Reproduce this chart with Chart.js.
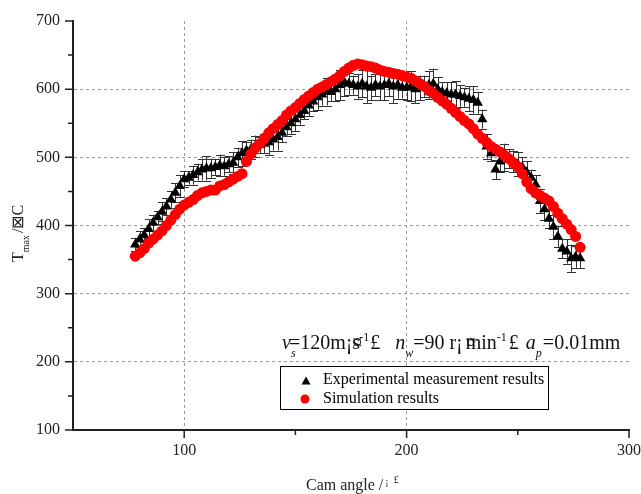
<!DOCTYPE html>
<html><head><meta charset="utf-8">
<script src="https://cdn.jsdelivr.net/npm/chart.js@4/dist/chart.umd.min.js"></script>
<style>html,body{margin:0;padding:0;background:#fff;}#wrap{width:641px;height:494px;position:relative;}</style>
</head><body>
<div id="wrap"><canvas id="c" width="641" height="494"></canvas></div>
<script>
// Cam angle (degrees)
const angles = [
  78,80,82,84,86,88,90,92,94,96,
  98,100,102,104,106,108,110,112,114,116,
  118,120,122,124,126,128,130,132,134,136,
  138,140,142,144,146,148,150,152,154,156,
  158,160,162,164,166,168,170,172,174,176,
  178,180,182,184,186,188,190,192,194,196,
  198,200,202,204,206,208,210,212,214,216,
  218,220,222,224,226,228,230,232,234,236,
  238,240,242,244,246,248,250,252,254,256,
  258,260,262,264,266,268,270,272,274,276,
  278
];
// Experimental measurement results (Tmax)
const experimental = [
  372,380,386,395,404,412,420,428,438,448,
  458,468,470,474,478,482,484,484,486,488,
  487,490,492,500,506,510,512,516,518,520,
  522,526,530,536,544,550,556,562,568,576,
  582,588,592,596,596,600,606,610,608,606,
  604,608,604,602,606,604,606,608,604,606,
  602,602,604,600,602,604,606,608,600,596,
  594,592,592,590,588,586,584,580,556,516,
  506,482,494,500,498,494,490,486,478,470,
  460,436,424,410,398,384,366,362,352,354,
  352
];
// Error of experimental results (+/-)
const expError = [
  10,12,10,14,12,10,14,12,12,14,
  16,12,10,14,12,16,18,14,12,16,
  14,12,16,14,18,12,14,16,12,14,
  18,16,20,14,12,16,18,14,12,16,
  14,18,16,20,14,18,22,20,16,14,
  18,20,24,18,16,20,22,18,24,20,
  16,18,22,20,18,16,20,22,18,14,
  16,18,20,16,14,18,20,16,14,18,
  12,14,16,20,14,16,18,14,16,12,
  14,18,16,14,18,16,14,18,20,16,
  14
];
// Simulation results (Tmax)
const simulated = [
  355,360,366,374,380,386,392,400,408,416,
  424,430,434,438,444,448,450,452,452,458,
  460,464,468,472,476,494,505,514,520,528,
  536,542,548,554,562,568,573,579,585,590,
  595,600,603,607,611,615,620,626,631,635,
  637,636,634,633,631,628,626,625,623,622,
  620,618,616,612,608,604,598,594,588,583,
  578,572,566,560,554,549,542,534,528,522,
  516,512,508,503,498,492,486,476,464,454,
  448,444,440,436,428,418,410,402,394,384,
  368
];
const xTickLabels = [100, 200, 300];
const yTickLabels = [100, 200, 300, 400, 500, 600, 700];
const xGridValues = [100, 200];
const yGridValues = [200, 300, 400, 500, 600];
const xMinorTicks = [150, 250];
const yMinorTicks = [150, 250, 350, 450, 550, 650];

const SERIF = '"Liberation Serif", "Times New Roman", serif';
const INK = '#222';

const errorBars = {
  id: 'errorBars',
  beforeDatasetDraw(chart, args) {
    if (chart.data.datasets[args.index].label !== 'Experimental measurement results') return;
    const ctx = chart.ctx, xs = chart.scales.x, ys = chart.scales.y;
    ctx.save();
    ctx.strokeStyle = '#333';
    ctx.lineWidth = 1;
    angles.forEach((a, i) => {
      const px = Math.round(xs.getPixelForValue(a)) + 0.5;
      const top = ys.getPixelForValue(experimental[i] + expError[i]);
      const bot = ys.getPixelForValue(experimental[i] - expError[i]);
      ctx.beginPath();
      ctx.moveTo(px, top); ctx.lineTo(px, bot);
      ctx.moveTo(px - 4.5, Math.round(top) + 0.5); ctx.lineTo(px + 4.5, Math.round(top) + 0.5);
      ctx.moveTo(px - 4.5, Math.round(bot) + 0.5); ctx.lineTo(px + 4.5, Math.round(bot) + 0.5);
      ctx.stroke();
    });
    ctx.restore();
  }
};

function drawPieces(ctx, x, baseline, pieces, size) {
  pieces.forEach(p => {
    const fs = p.small ? Math.round(size * 0.62) : size;
    ctx.font = (p.italic ? 'italic ' : '') + fs + 'px ' + SERIF;
    let dy = p.dy || 0;
    if (p.sub) dy = size * 0.38;
    if (p.sup) dy = -size * 0.42;
    const w = ctx.measureText(p.t).width;
    ctx.fillText(p.t, x + (p.dx || 0), baseline + dy);
    if (!p.overlay) x += w + (p.gap || 0);
  });
  return x;
}

const decorations = {
  id: 'decorations',
  afterDraw(chart) {
    const ctx = chart.ctx, xs = chart.scales.x, ys = chart.scales.y;
    const area = chart.chartArea;
    ctx.save();
    // tick marks
    ctx.strokeStyle = INK;
    ctx.lineWidth = 1.5;
    ctx.beginPath();
    xTickLabels.forEach(v => { const p = xs.getPixelForValue(v); ctx.moveTo(p, area.bottom); ctx.lineTo(p, area.bottom + 8); });
    xMinorTicks.forEach(v => { const p = xs.getPixelForValue(v); ctx.moveTo(p, area.bottom); ctx.lineTo(p, area.bottom + 5); });
    yTickLabels.forEach(v => { const p = ys.getPixelForValue(v); ctx.moveTo(area.left, p); ctx.lineTo(area.left - 8, p); });
    yMinorTicks.forEach(v => { const p = ys.getPixelForValue(v); ctx.moveTo(area.left, p); ctx.lineTo(area.left - 5, p); });
    ctx.stroke();

    ctx.fillStyle = INK;
    ctx.textBaseline = 'alphabetic';
    ctx.textAlign = 'left';
    // x axis title
    drawPieces(ctx, 306, 490, [
      { t: 'Cam angle /' },
      { t: '\u00a1', small: true, gap: 7, dx: 2, dy: -5 },
      { t: '\u00a3', small: true, sup: true }
    ], 16);
    // y axis title (rotated)
    ctx.save();
    ctx.translate(23, 262);
    ctx.rotate(-Math.PI / 2);
    drawPieces(ctx, 0, 0, [
      { t: 'T' },
      { t: 'max', small: true, sub: true, gap: 2 },
      { t: '/\u22a0C' }
    ], 16);
    ctx.restore();

    // annotation
    ctx.fillStyle = '#111';
    drawPieces(ctx, 282, 349, [
      { t: 'v', italic: true, gap: -2 },
      { t: 's', italic: true, small: true, sub: true, overlay: true, dx: 2 },
      { t: '=120m\u00a1' },
      { t: '\u00a4', overlay: true },
      { t: 's', gap: -1 },
      { t: '-1', small: true, sup: true, gap: 1 },
      { t: '\u00a3', gap: 15 },
      { t: 'n', italic: true },
      { t: 'w', italic: true, small: true, sub: true },
      { t: '=90 r\u00a1', gap: 3 },
      { t: '\u00a4', overlay: true },
      { t: 'min' },
      { t: '-1', small: true, sup: true, gap: 2 },
      { t: '\u00a3', gap: 7 },
      { t: 'a', italic: true, gap: 0 },
      { t: 'p', italic: true, small: true, sub: true, gap: 1 },
      { t: '=0.01mm' }
    ], 20);

    // legend box
    ctx.fillStyle = '#fff';
    ctx.fillRect(280, 366.5, 268, 43);
    ctx.strokeStyle = '#000';
    ctx.lineWidth = 1;
    ctx.strokeRect(280.5, 366.5, 268, 43);
    // triangle marker
    ctx.fillStyle = '#000';
    ctx.beginPath();
    ctx.moveTo(306, 376.5); ctx.lineTo(310.5, 384.5); ctx.lineTo(301.5, 384.5); ctx.closePath();
    ctx.fill();
    // circle marker
    ctx.fillStyle = '#ff0000';
    ctx.beginPath();
    ctx.arc(305, 399, 4.5, 0, Math.PI * 2);
    ctx.fill();
    ctx.fillStyle = '#000';
    ctx.font = '16px ' + SERIF;
    ctx.fillText(chart.data.datasets[1].label, 323, 384);
    ctx.fillText(chart.data.datasets[0].label, 323, 403);
    ctx.restore();
  }
};

new Chart(document.getElementById('c'), {
  type: 'scatter',
  data: {
    datasets: [
      {
        label: 'Simulation results',
        data: angles.map((a, i) => ({ x: a, y: simulated[i] })),
        pointStyle: 'circle',
        pointRadius: 5.5,
        backgroundColor: '#ff0000',
        borderColor: '#ff0000',
        borderWidth: 0,
        order: 0
      },
      {
        label: 'Experimental measurement results',
        data: angles.map((a, i) => ({ x: a, y: experimental[i] })),
        pointStyle: 'triangle',
        pointRadius: 6,
        backgroundColor: '#000',
        borderColor: '#000',
        borderWidth: 0,
        order: 1
      }
    ]
  },
  options: {
    responsive: false,
    animation: false,
    events: [],
    layout: { padding: { left: 0, right: 0, top: 21, bottom: 0 } },
    plugins: { legend: { display: false }, tooltip: { enabled: false } },
    scales: {
      x: {
        type: 'linear', min: 50, max: 300,
        afterFit(s) { s.height = 64; s.paddingRight = 12; s.paddingLeft = 0; },
        afterBuildTicks(s) { s.ticks = [50, 100, 150, 200, 250, 300].map(v => ({ value: v })); },
        ticks: {
          autoSkip: false, maxRotation: 0, padding: 11, color: INK,
          font: { family: SERIF, size: 16 },
          callback: v => xTickLabels.includes(v) ? String(v) : ''
        },
        grid: {
          drawTicks: false, lineWidth: 1,
          color: c => (c.tick && xGridValues.includes(c.tick.value)) ? '#9a9a9a' : 'rgba(0,0,0,0)'
        },
        border: { display: true, color: INK, width: 2, dash: [3, 3] }
      },
      y: {
        type: 'linear', min: 100, max: 700,
        afterFit(s) { s.width = 73; s.paddingTop = 0; s.paddingBottom = 0; },
        afterBuildTicks(s) { s.ticks = [100,150,200,250,300,350,400,450,500,550,600,650,700].map(v => ({ value: v })); },
        ticks: {
          autoSkip: false, padding: 13, color: INK,
          font: { family: SERIF, size: 16 },
          callback: v => yTickLabels.includes(v) ? String(v) : ''
        },
        grid: {
          drawTicks: false, lineWidth: 1,
          color: c => (c.tick && yGridValues.includes(c.tick.value)) ? '#9a9a9a' : 'rgba(0,0,0,0)'
        },
        border: { display: true, color: INK, width: 2, dash: [3, 3] }
      }
    }
  },
  plugins: [errorBars, decorations]
});
</script>
</body></html>
